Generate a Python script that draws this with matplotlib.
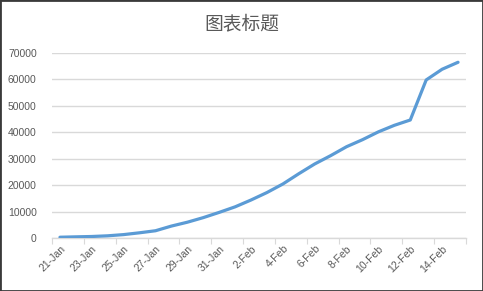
import matplotlib
matplotlib.use("Agg")
import matplotlib.pyplot as plt
from matplotlib.patches import Rectangle

# Daily categories and cumulative case counts
dates = ["21-Jan", "22-Jan", "23-Jan", "24-Jan", "25-Jan", "26-Jan", "27-Jan",
         "28-Jan", "29-Jan", "30-Jan", "31-Jan", "1-Feb", "2-Feb", "3-Feb",
         "4-Feb", "5-Feb", "6-Feb", "7-Feb", "8-Feb", "9-Feb", "10-Feb",
         "11-Feb", "12-Feb", "13-Feb", "14-Feb", "15-Feb"]
cases = [291, 440, 571, 830, 1287, 1975, 2744, 4515, 5974, 7711, 9692,
         11791, 14380, 17205, 20438, 24324, 28018, 31161, 34546, 37198,
         40171, 42638, 44653, 59804, 63851, 66492]
y_ticks = [0, 10000, 20000, 30000, 40000, 50000, 60000, 70000]
title = "图表标题"

W, H = 483, 291
fig = plt.figure(figsize=(W / 100, H / 100), dpi=100)
fig.patch.set_facecolor("white")

ax = fig.add_axes([52 / W, 1 - 238 / H, (466 - 52) / W, (238 - 53) / H])

x = list(range(len(dates)))
ax.plot(x, cases, color="#5B9BD5", lw=2.3, solid_joinstyle="round",
        solid_capstyle="round", zorder=3)

ax.set_xlim(-0.5, len(dates) - 0.5)
ax.set_ylim(0, 70000)

grid_c = "#D9D9D9"
label_c = "#595959"
tick_font = "Liberation Sans"

ax.set_yticks(y_ticks)
ax.set_yticklabels([str(v) for v in y_ticks], fontsize=7.5, color=label_c,
                   family=tick_font)
ax.yaxis.grid(True, color=grid_c, lw=1)
ax.tick_params(axis="y", length=0, pad=11)

# Tick marks on category boundaries, labels on every second category
ax.set_xticks([i - 0.5 for i in range(0, len(dates) + 1, 2)])
ax.tick_params(axis="x", which="major", length=4, color=grid_c, labelbottom=False)
ax.set_xticks(x[::2], minor=True)
ax.set_xticklabels(dates[::2], minor=True, rotation=45, ha="right", va="top",
                   rotation_mode="anchor", fontsize=7.5, color=label_c,
                   family=tick_font)
ax.tick_params(axis="x", which="minor", length=0, pad=4)

for s in ["left", "right", "top"]:
    ax.spines[s].set_visible(False)
ax.spines["bottom"].set_color(grid_c)
ax.spines["bottom"].set_linewidth(1)
ax.set_axisbelow(True)

fig.text(241.7 / W, 1 - 24 / H, title, ha="center", va="center",
         fontsize=13.5, color=label_c,
         family=["Noto Sans CJK SC", "DejaVu Sans"])

fig.patches.append(Rectangle((0, 0), 1, 1, transform=fig.transFigure,
                             fill=False, edgecolor="#3a3a3a", lw=2.0))

fig.savefig("out.png", dpi=100)
